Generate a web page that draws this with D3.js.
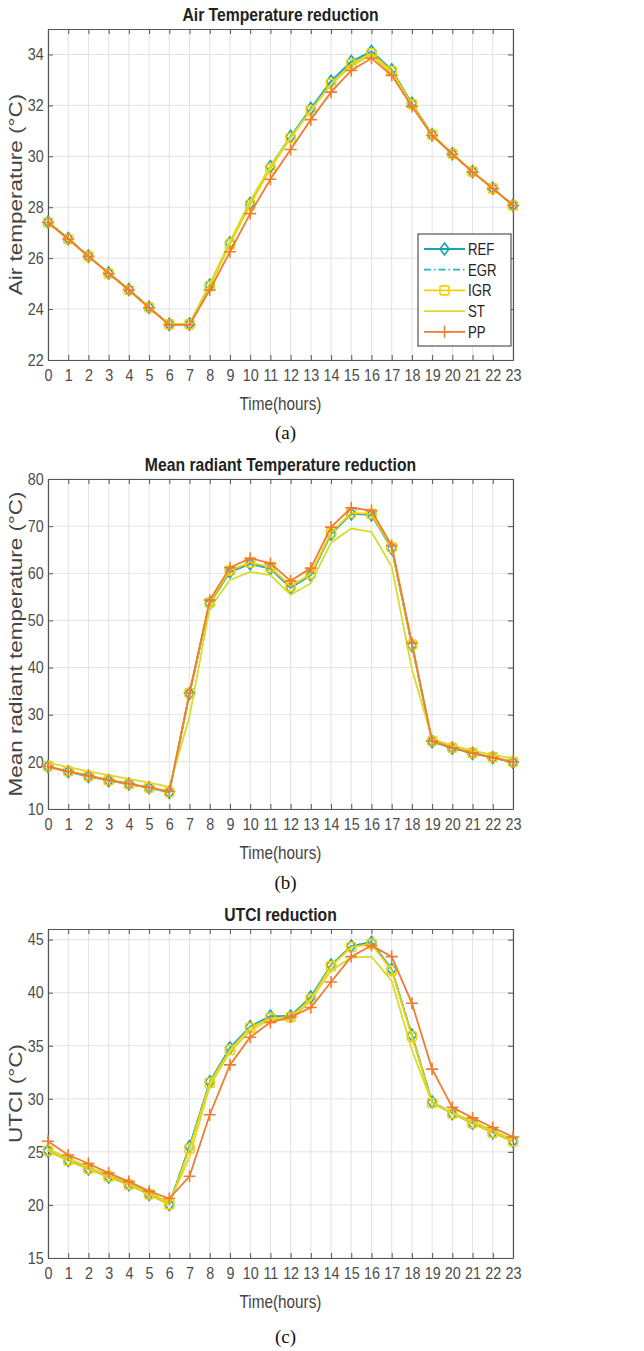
<!DOCTYPE html>
<html>
<head>
<meta charset="utf-8">
<script src="https://cdn.jsdelivr.net/npm/d3@7"></script>
<style>
body { margin: 0; background: #fff; }
svg { display: block; font-family: "Liberation Sans", Arial, sans-serif; }
</style>
</head>
<body>
<div class="container"></div>
<script>
var W = 644, H = 1351;
var LEFT = 48, RIGHT = 513;
var SQUEEZE = 0.85; // text in the figure is narrower than it is tall

var hours = d3.range(0, 24);
var seriesNames = ["REF", "EGR", "IGR", "ST", "PP"];

// (a) air temperature
var airREF = [27.42, 26.77, 26.08, 25.42, 24.77, 24.07, 23.4, 23.41, 24.94, 26.6, 28.15, 29.6, 30.78, 31.88, 32.95, 33.72, 34.12, 33.4, 32.08, 30.85, 30.1, 29.4, 28.75, 28.08];
var airEGR = [27.42, 26.77, 26.08, 25.42, 24.77, 24.07, 23.4, 23.41, 24.94, 26.6, 28.15, 29.58, 30.76, 31.86, 32.93, 33.7, 34.1, 33.38, 32.07, 30.85, 30.1, 29.4, 28.75, 28.08];
var airIGR = [27.4, 26.75, 26.07, 25.4, 24.75, 24.06, 23.4, 23.4, 24.9, 26.55, 28.1, 29.52, 30.72, 31.8, 32.85, 33.62, 34.05, 33.35, 32.05, 30.85, 30.1, 29.4, 28.74, 28.07];
var airST = [27.4, 26.75, 26.07, 25.4, 24.75, 24.06, 23.4, 23.42, 24.98, 26.65, 28.25, 29.6, 30.75, 31.8, 32.82, 33.55, 33.98, 33.25, 32.0, 30.82, 30.1, 29.4, 28.74, 28.06];
var airPP = [27.4, 26.75, 26.07, 25.4, 24.75, 24.05, 23.38, 23.38, 24.75, 26.25, 27.75, 29.1, 30.27, 31.44, 32.52, 33.37, 33.85, 33.18, 31.96, 30.82, 30.08, 29.38, 28.73, 28.07];

// (b) mean radiant temperature
var mrtREF = [19.0, 17.9, 16.9, 16.0, 15.3, 14.5, 13.5, 34.5, 53.6, 60.3, 62.0, 61.0, 56.9, 59.6, 68.3, 72.6, 72.4, 65.3, 44.7, 24.3, 22.9, 21.8, 20.9, 19.9];
var mrtEGR = [19.0, 17.9, 16.9, 16.0, 15.3, 14.5, 13.5, 34.5, 53.6, 60.3, 62.0, 61.0, 56.9, 59.6, 68.3, 72.6, 72.4, 65.3, 44.7, 24.3, 22.9, 21.8, 20.9, 19.9];
var mrtIGR = [19.1, 18.0, 17.0, 16.1, 15.3, 14.5, 13.6, 34.6, 53.8, 60.6, 62.3, 61.3, 57.2, 59.9, 68.6, 72.8, 72.6, 65.5, 44.9, 24.4, 23.0, 21.9, 21.0, 20.0];
var mrtST = [19.8, 18.9, 18.0, 17.2, 16.4, 15.6, 14.7, 29.6, 52.6, 58.6, 60.3, 59.6, 55.4, 57.9, 66.5, 69.5, 68.8, 61.4, 39.7, 24.8, 23.5, 22.4, 21.5, 20.7];
var mrtPP = [19.0, 18.0, 17.1, 16.2, 15.4, 14.6, 13.7, 34.6, 54.3, 61.2, 63.2, 62.1, 58.4, 61.1, 69.8, 73.9, 73.3, 65.9, 45.2, 24.4, 23.0, 21.9, 20.9, 20.0];

// (c) UTCI
var utciREF = [25.1, 24.2, 23.4, 22.65, 21.9, 21.0, 20.05, 25.5, 31.6, 34.8, 36.8, 37.8, 37.8, 39.6, 42.6, 44.4, 44.75, 42.2, 36.0, 29.7, 28.6, 27.7, 26.8, 26.0];
var utciEGR = [25.2, 24.3, 23.5, 22.75, 22.0, 21.1, 20.15, 25.5, 31.6, 34.8, 36.8, 37.8, 37.8, 39.6, 42.6, 44.4, 44.75, 42.2, 36.0, 29.7, 28.7, 27.8, 26.9, 26.1];
var utciIGR = [25.1, 24.2, 23.4, 22.65, 21.9, 21.0, 20.05, 25.3, 31.5, 34.6, 36.7, 37.6, 37.7, 39.4, 42.5, 44.3, 44.6, 42.1, 35.9, 29.6, 28.6, 27.7, 26.8, 26.0];
var utciST = [25.3, 24.4, 23.6, 22.85, 22.1, 21.2, 20.25, 24.5, 31.2, 34.4, 36.4, 37.5, 37.4, 39.3, 42.1, 43.3, 43.4, 41.1, 34.6, 29.6, 28.7, 27.9, 27.0, 26.2];
var utciPP = [26.0, 24.7, 23.9, 23.0, 22.2, 21.3, 20.6, 22.7, 28.5, 33.2, 35.8, 37.2, 37.7, 38.6, 41.0, 43.4, 44.45, 43.4, 39.0, 32.8, 29.2, 28.2, 27.3, 26.4];

var colors = { REF: "#18a6b0", EGR: "#22b5cf", IGR: "#f6cf00", ST: "#d9dc2a", PP: "#f27c2e" };

var panels = [
	{ title: "Air Temperature reduction", ylabel: "Air temperature (\u00B0C)", tag: "(a)",
	  top: 29, bottom: 360, domain: [22, 35], ticks: d3.range(22, 35, 2), tagOff: 79,
	  data: [airREF, airEGR, airIGR, airST, airPP], legend: true },
	{ title: "Mean radiant Temperature reduction", ylabel: "Mean radiant temperature (\u00B0C)", tag: "(b)",
	  top: 479, bottom: 809, domain: [10, 80], ticks: d3.range(10, 81, 10), tagOff: 80,
	  data: [mrtREF, mrtEGR, mrtIGR, mrtST, mrtPP], legend: false },
	{ title: "UTCI reduction", ylabel: "UTCI (\u00B0C)", tag: "(c)",
	  top: 929, bottom: 1258, domain: [15, 46], ticks: d3.range(15, 46, 5), tagOff: 85,
	  data: [utciREF, utciEGR, utciIGR, utciST, utciPP], legend: false }
];

var svg = d3.select(".container").append("svg").attr("width", W).attr("height", H);

var squeezed = function(x, y) {
	return "translate(" + x + "," + y + ") scale(" + SQUEEZE + ",1)";
}

var diamond = function(g, x, y, c) {
	g.append("path").attr("d", "M" + x + "," + (y - 6) + "L" + (x + 4.5) + "," + y + "L" + x + "," + (y + 6) + "L" + (x - 4.5) + "," + y + "Z")
		.attr("fill", "none").attr("stroke", c).attr("stroke-width", 1.6);
}
var square = function(g, x, y, c) {
	g.append("rect").attr("x", x - 4.5).attr("y", y - 4.5).attr("width", 9).attr("height", 9).attr("rx", 2)
		.attr("fill", "none").attr("stroke", c).attr("stroke-width", 1.6);
}
var plus = function(g, x, y, c) {
	g.append("path").attr("d", "M" + (x - 6) + "," + y + "H" + (x + 6) + "M" + x + "," + (y - 6) + "V" + (y + 6))
		.attr("stroke", c).attr("stroke-width", 1.6);
}

var drawPanel = function(p) {
	var x = d3.scaleLinear().domain([0, 23]).range([LEFT, RIGHT]);
	var y = d3.scaleLinear().domain(p.domain).range([p.bottom, p.top]);
	var g = svg.append("g");

	// grid
	g.append("g").selectAll("line").data(hours).join("line")
		.attr("x1", d => x(d)).attr("x2", d => x(d)).attr("y1", p.top).attr("y2", p.bottom)
		.attr("stroke", "#e2e2e2").attr("stroke-width", 1);
	g.append("g").selectAll("line").data(p.ticks).join("line")
		.attr("x1", LEFT).attr("x2", RIGHT).attr("y1", d => y(d)).attr("y2", d => y(d))
		.attr("stroke", "#e2e2e2").attr("stroke-width", 1);

	// axes (ticks inside, box)
	var styleAxis = function(a) {
		a.select(".domain").attr("stroke", "#555").attr("stroke-width", 1.2);
		a.selectAll(".tick line").attr("stroke", "#555").attr("stroke-width", 1);
		a.selectAll("text").attr("fill", "#4d4d4d").attr("font-size", 16.5)
			.attr("font-family", "Liberation Sans, Arial, sans-serif").attr("transform", "scale(0.87,1)");
	}
	g.append("g").attr("transform", "translate(0," + p.bottom + ")")
		.call(d3.axisBottom(x).tickValues(hours).tickFormat(d3.format("d")).tickSizeInner(-5).tickSizeOuter(0).tickPadding(9))
		.call(styleAxis);
	g.append("g").attr("transform", "translate(0," + p.top + ")")
		.call(d3.axisTop(x).tickValues(hours).tickFormat("").tickSizeInner(-5).tickSizeOuter(0))
		.call(styleAxis);
	g.append("g").attr("transform", "translate(" + LEFT + ",0)")
		.call(d3.axisLeft(y).tickValues(p.ticks).tickFormat(d3.format("d")).tickSizeInner(-5).tickSizeOuter(0).tickPadding(5))
		.call(styleAxis);
	g.append("g").attr("transform", "translate(" + RIGHT + ",0)")
		.call(d3.axisRight(y).tickValues(p.ticks).tickFormat("").tickSizeInner(-5).tickSizeOuter(0))
		.call(styleAxis);

	// series
	var line = d3.line().x((d, i) => x(i)).y(d => y(d));
	var lg = g.append("g");
	p.data.forEach(function(vals, k) {
		var name = seriesNames[k];
		var path = lg.append("path").attr("d", line(vals)).attr("fill", "none")
			.attr("stroke", colors[name]).attr("stroke-width", 1.8);
		if (name === "EGR") path.attr("stroke-dasharray", "7,3,1.5,3");
		vals.forEach(function(v, i) {
			if (name === "REF") diamond(lg, x(i), y(v), colors[name]);
			if (name === "IGR") square(lg, x(i), y(v), colors[name]);
			if (name === "PP") plus(lg, x(i), y(v), colors[name]);
		});
	});

	// texts
	g.append("text").attr("transform", squeezed((LEFT + RIGHT) / 2, p.top - 8)).attr("text-anchor", "middle")
		.attr("font-size", 18.5).attr("font-weight", "bold").attr("fill", "#222").text(p.title);
	g.append("text").attr("transform", squeezed((LEFT + RIGHT) / 2, p.bottom + 50)).attr("text-anchor", "middle")
		.attr("font-size", 18).attr("fill", "#444").text("Time(hours)");
	g.append("text").attr("transform", "translate(22," + ((p.top + p.bottom) / 2) + ") rotate(-90) scale(1,0.8)")
		.attr("text-anchor", "middle").attr("font-size", 22.5).attr("fill", "#444").text(p.ylabel);
	g.append("text").attr("x", (LEFT + RIGHT) / 2 + 5).attr("y", p.bottom + p.tagOff).attr("text-anchor", "middle")
		.attr("font-size", 19).attr("font-family", "Liberation Serif, Times New Roman, serif").attr("fill", "#111").text(p.tag);

	if (p.legend) drawLegend(g);
}

var drawLegend = function(g) {
	var lx = 418, ly = 234, lw = 93, lh = 112;
	var lgd = g.append("g");
	lgd.append("rect").attr("x", lx).attr("y", ly).attr("width", lw).attr("height", lh)
		.attr("fill", "#fff").attr("stroke", "#333").attr("stroke-width", 1);
	seriesNames.forEach(function(name, k) {
		var yy = ly + 15 + k * 20.7;
		var l = lgd.append("line").attr("x1", lx + 6).attr("x2", lx + 47).attr("y1", yy).attr("y2", yy)
			.attr("stroke", colors[name]).attr("stroke-width", 1.8);
		if (name === "EGR") l.attr("stroke-dasharray", "7,3,1.5,3");
		if (name === "REF") diamond(lgd, lx + 26.5, yy, colors[name]);
		if (name === "IGR") square(lgd, lx + 26.5, yy, colors[name]);
		if (name === "PP") plus(lgd, lx + 26.5, yy, colors[name]);
		lgd.append("text").attr("transform", "translate(" + (lx + 50) + "," + (yy + 6) + ") scale(0.8,1)")
			.attr("font-size", 16.5).attr("fill", "#222").text(name);
	});
}

panels.forEach(drawPanel);
</script>
</body>
</html>
